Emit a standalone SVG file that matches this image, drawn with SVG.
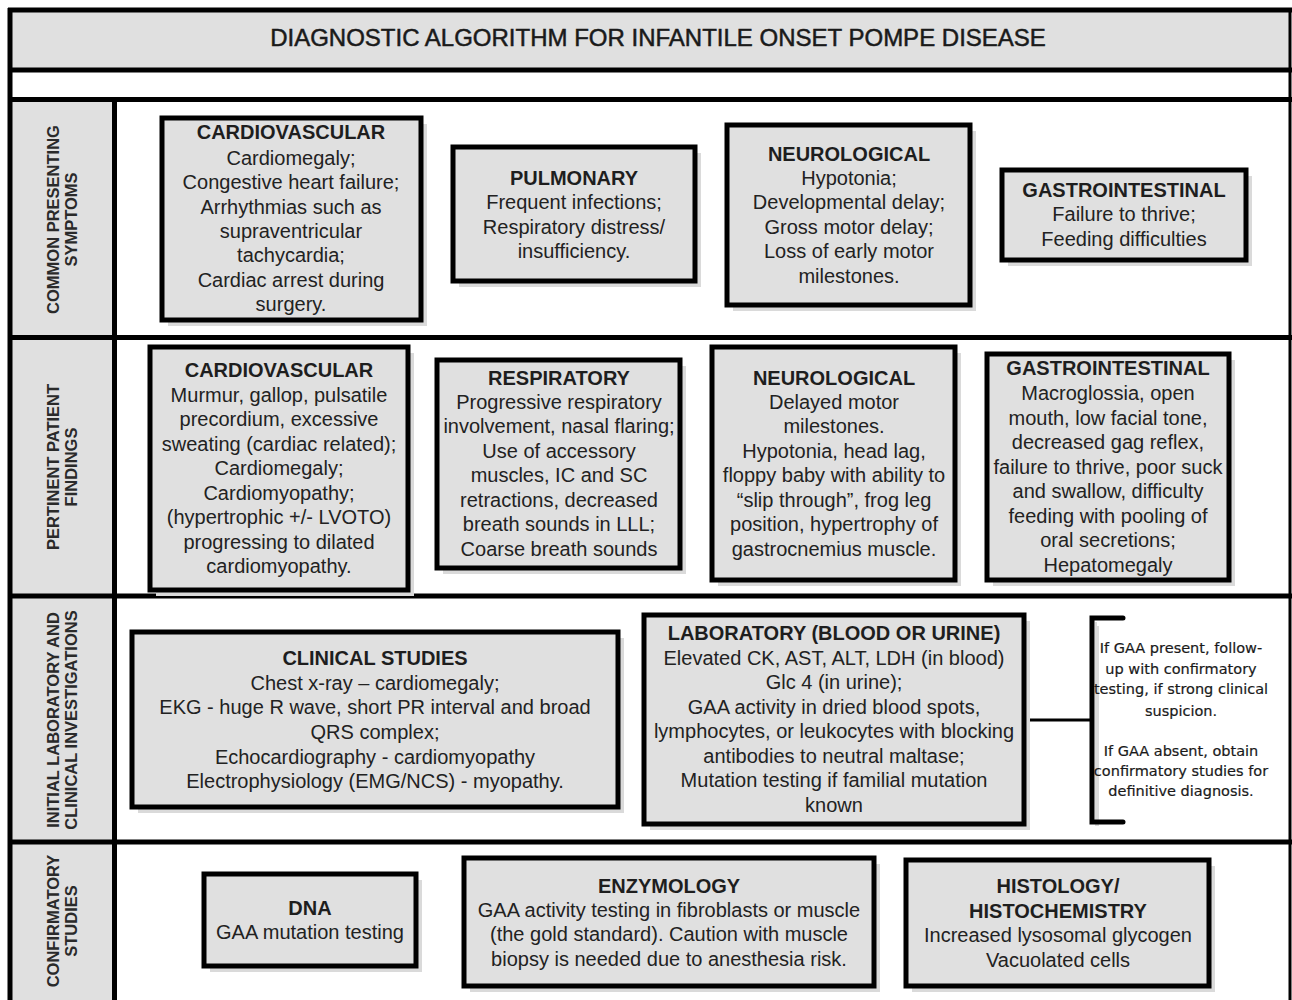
<svg xmlns="http://www.w3.org/2000/svg" width="1292" height="1000" viewBox="0 0 1292 1000">
<defs>
<style>
.frame{fill:none;stroke:#000;stroke-width:5}
.sep{stroke:#000;stroke-width:5;fill:none}
.band{fill:#e0e0e0}
.box{fill:#e0e0e0;stroke:#000;stroke-width:5}
.shadow{fill:#dadada}
.h{font-family:"Liberation Sans",Arial,sans-serif;font-size:20px;font-weight:bold;fill:#1e1e1e;text-anchor:middle}
.t{font-family:"Liberation Sans",Arial,sans-serif;font-size:20px;fill:#222;text-anchor:middle}
.lbl{font-family:"Liberation Sans",Arial,sans-serif;font-size:16.5px;font-weight:bold;fill:#2a2a2a;text-anchor:middle}
.title{font-family:"Liberation Sans",Arial,sans-serif;font-size:24px;fill:#1a1a1a;stroke:#1a1a1a;stroke-width:0.5;text-anchor:middle}
.note{font-family:"DejaVu Sans","Liberation Sans",sans-serif;font-size:14.5px;fill:#1a1a1a;stroke:#1a1a1a;stroke-width:0.2;text-anchor:middle}
.conn{stroke:#000;stroke-width:3;fill:none}
.brk{stroke:#000;stroke-width:5;fill:none;stroke-linecap:round}
</style>
</defs>
<rect width="1292" height="1000" fill="#fff"/>
<g id="frame">
<rect class="band" x="10" y="10" width="1280" height="60"/>
<rect class="band" x="12" y="100" width="101" height="900"/>
<line class="sep" x1="8" y1="70" x2="1292" y2="70"/>
<line class="sep" x1="8" y1="99.5" x2="1292" y2="99.5"/>
<line class="sep" x1="8" y1="337.5" x2="1292" y2="337.5"/>
<line class="sep" x1="8" y1="596" x2="1292" y2="596"/>
<line class="sep" x1="8" y1="842" x2="1292" y2="842"/>
<line class="sep" x1="114.5" y1="99" x2="114.5" y2="1000"/>
<line class="sep" x1="8" y1="10" x2="1292" y2="10"/>
<line class="sep" x1="10" y1="8" x2="10" y2="1000"/>
<line x1="1290" y1="8" x2="1290" y2="1000" stroke="#000" stroke-width="3"/>
<text class="title" x="658" y="46">DIAGNOSTIC ALGORITHM FOR INFANTILE ONSET POMPE DISEASE</text>
</g>
<g id="row-labels">
<g id="label-symptoms" transform="translate(0,219.5) rotate(-90)"><text class="lbl" x="0" y="59">COMMON PRESENTING</text><text class="lbl" x="0" y="77">SYMPTOMS</text></g>
<g id="label-findings" transform="translate(0,467) rotate(-90)"><text class="lbl" x="0" y="59">PERTINENT PATIENT</text><text class="lbl" x="0" y="77">FINDINGS</text></g>
<g id="label-investigations" transform="translate(0,720) rotate(-90)"><text class="lbl" x="0" y="59">INITIAL LABORATORY AND</text><text class="lbl" x="0" y="77">CLINICAL INVESTIGATIONS</text></g>
<g id="label-confirmatory" transform="translate(0,921) rotate(-90)"><text class="lbl" x="0" y="59">CONFIRMATORY</text><text class="lbl" x="0" y="77">STUDIES</text></g>
</g>
<g id="connectors">
<line class="conn" x1="1026" y1="720" x2="1092" y2="720"/>
</g>
<g id="sym-cardio">
<rect class="shadow" x="168" y="124" width="259" height="202"/>
<rect class="box" x="162" y="118" width="259" height="202"/>
<text class="h" x="291" y="139">CARDIOVASCULAR</text>
<text class="t" x="291" y="165">Cardiomegaly;</text>
<text class="t" x="291" y="189">Congestive heart failure;</text>
<text class="t" x="291" y="214">Arrhythmias such as</text>
<text class="t" x="291" y="238">supraventricular</text>
<text class="t" x="291" y="262">tachycardia;</text>
<text class="t" x="291" y="287">Cardiac arrest during</text>
<text class="t" x="291" y="311">surgery.</text>
</g>
<g id="sym-pulmonary">
<rect class="shadow" x="459" y="153" width="242" height="134"/>
<rect class="box" x="453" y="147" width="242" height="134"/>
<text class="h" x="574" y="185">PULMONARY</text>
<text class="t" x="574" y="209">Frequent infections;</text>
<text class="t" x="574" y="234">Respiratory distress/</text>
<text class="t" x="574" y="258">insufficiency.</text>
</g>
<g id="sym-neuro">
<rect class="shadow" x="733" y="131" width="243" height="180"/>
<rect class="box" x="727" y="125" width="243" height="180"/>
<text class="h" x="849" y="161">NEUROLOGICAL</text>
<text class="t" x="849" y="185">Hypotonia;</text>
<text class="t" x="849" y="209">Developmental delay;</text>
<text class="t" x="849" y="234">Gross motor delay;</text>
<text class="t" x="849" y="258">Loss of early motor</text>
<text class="t" x="849" y="283">milestones.</text>
</g>
<g id="sym-gi">
<rect class="shadow" x="1008" y="176" width="244" height="90"/>
<rect class="box" x="1002" y="170" width="244" height="90"/>
<text class="h" x="1124" y="197">GASTROINTESTINAL</text>
<text class="t" x="1124" y="221">Failure to thrive;</text>
<text class="t" x="1124" y="246">Feeding difficulties</text>
</g>
<g id="find-cardio">
<rect class="shadow" x="156" y="353" width="258" height="243"/>
<rect class="box" x="150" y="347" width="258" height="243"/>
<text class="h" x="279" y="377">CARDIOVASCULAR</text>
<text class="t" x="279" y="402">Murmur, gallop, pulsatile</text>
<text class="t" x="279" y="426">precordium, excessive</text>
<text class="t" x="279" y="451">sweating (cardiac related);</text>
<text class="t" x="279" y="475">Cardiomegaly;</text>
<text class="t" x="279" y="500">Cardiomyopathy;</text>
<text class="t" x="279" y="524">(hypertrophic +/- LVOTO)</text>
<text class="t" x="279" y="549">progressing to dilated</text>
<text class="t" x="279" y="573">cardiomyopathy.</text>
</g>
<g id="find-resp">
<rect class="shadow" x="443" y="366" width="243" height="208"/>
<rect class="box" x="437" y="360" width="243" height="208"/>
<text class="h" x="559" y="385">RESPIRATORY</text>
<text class="t" x="559" y="409">Progressive respiratory</text>
<text class="t" x="559" y="433">involvement, nasal flaring;</text>
<text class="t" x="559" y="458">Use of accessory</text>
<text class="t" x="559" y="482">muscles, IC and SC</text>
<text class="t" x="559" y="507">retractions, decreased</text>
<text class="t" x="559" y="531">breath sounds in LLL;</text>
<text class="t" x="559" y="556">Coarse breath sounds</text>
</g>
<g id="find-neuro">
<rect class="shadow" x="718" y="353" width="243" height="233"/>
<rect class="box" x="712" y="347" width="243" height="233"/>
<text class="h" x="834" y="385">NEUROLOGICAL</text>
<text class="t" x="834" y="409">Delayed motor</text>
<text class="t" x="834" y="433">milestones.</text>
<text class="t" x="834" y="458">Hypotonia, head lag,</text>
<text class="t" x="834" y="482">floppy baby with ability to</text>
<text class="t" x="834" y="507">“slip through”, frog leg</text>
<text class="t" x="834" y="531">position, hypertrophy of</text>
<text class="t" x="834" y="556">gastrocnemius muscle.</text>
</g>
<g id="find-gi">
<rect class="shadow" x="993" y="360" width="242" height="226"/>
<rect class="box" x="987" y="354" width="242" height="226"/>
<text class="h" x="1108" y="375">GASTROINTESTINAL</text>
<text class="t" x="1108" y="400">Macroglossia, open</text>
<text class="t" x="1108" y="425">mouth, low facial tone,</text>
<text class="t" x="1108" y="449">decreased gag reflex,</text>
<text class="t" x="1108" y="474">failure to thrive, poor suck</text>
<text class="t" x="1108" y="498">and swallow, difficulty</text>
<text class="t" x="1108" y="523">feeding with pooling of</text>
<text class="t" x="1108" y="547">oral secretions;</text>
<text class="t" x="1108" y="572">Hepatomegaly</text>
</g>
<g id="inv-clinical">
<rect class="shadow" x="138" y="638" width="486" height="175"/>
<rect class="box" x="132" y="632" width="486" height="175"/>
<text class="h" x="375" y="665">CLINICAL STUDIES</text>
<text class="t" x="375" y="690">Chest x-ray – cardiomegaly;</text>
<text class="t" x="375" y="714">EKG - huge R wave, short PR interval and broad</text>
<text class="t" x="375" y="739">QRS complex;</text>
<text class="t" x="375" y="764">Echocardiography - cardiomyopathy</text>
<text class="t" x="375" y="788">Electrophysiology (EMG/NCS) - myopathy.</text>
</g>
<g id="inv-lab">
<rect class="shadow" x="650" y="621" width="380" height="209"/>
<rect class="box" x="644" y="615" width="380" height="209"/>
<text class="h" x="834" y="640">LABORATORY (BLOOD OR URINE)</text>
<text class="t" x="834" y="665">Elevated CK, AST, ALT, LDH (in blood)</text>
<text class="t" x="834" y="689">Glc 4 (in urine);</text>
<text class="t" x="834" y="714">GAA activity in dried blood spots,</text>
<text class="t" x="834" y="738">lymphocytes, or leukocytes with blocking</text>
<text class="t" x="834" y="763">antibodies to neutral maltase;</text>
<text class="t" x="834" y="787">Mutation testing if familial mutation</text>
<text class="t" x="834" y="812">known</text>
</g>
<g id="inv-note">
<path d="M1096,622 V826 M1098,626 V826" stroke="#dadada" stroke-width="2" fill="none"/>
<path class="brk" d="M1123,618 H1092 V822 H1123"/>
<text class="note" x="1181" y="653">If GAA present, follow-</text>
<text class="note" x="1181" y="674">up with confirmatory</text>
<text class="note" x="1181" y="694">testing, if strong clinical</text>
<text class="note" x="1181" y="716">suspicion.</text>
<text class="note" x="1181" y="756">If GAA absent, obtain</text>
<text class="note" x="1181" y="776">confirmatory studies for</text>
<text class="note" x="1181" y="796">definitive diagnosis.</text>
</g>
<g id="conf-dna">
<rect class="shadow" x="210" y="880" width="212" height="92"/>
<rect class="box" x="204" y="874" width="212" height="92"/>
<text class="h" x="310" y="915">DNA</text>
<text class="t" x="310" y="939">GAA mutation testing</text>
</g>
<g id="conf-enzymology">
<rect class="shadow" x="470" y="864" width="410" height="128"/>
<rect class="box" x="464" y="858" width="410" height="128"/>
<text class="h" x="669" y="893">ENZYMOLOGY</text>
<text class="t" x="669" y="917">GAA activity testing in fibroblasts or muscle</text>
<text class="t" x="669" y="941">(the gold standard). Caution with muscle</text>
<text class="t" x="669" y="966">biopsy is needed due to anesthesia risk.</text>
</g>
<g id="conf-histology">
<rect class="shadow" x="912" y="866" width="303" height="126"/>
<rect class="box" x="906" y="860" width="303" height="126"/>
<text class="h" x="1058" y="893">HISTOLOGY/</text>
<text class="h" x="1058" y="918">HISTOCHEMISTRY</text>
<text class="t" x="1058" y="942">Increased lysosomal glycogen</text>
<text class="t" x="1058" y="967">Vacuolated cells</text>
</g>
</svg>
